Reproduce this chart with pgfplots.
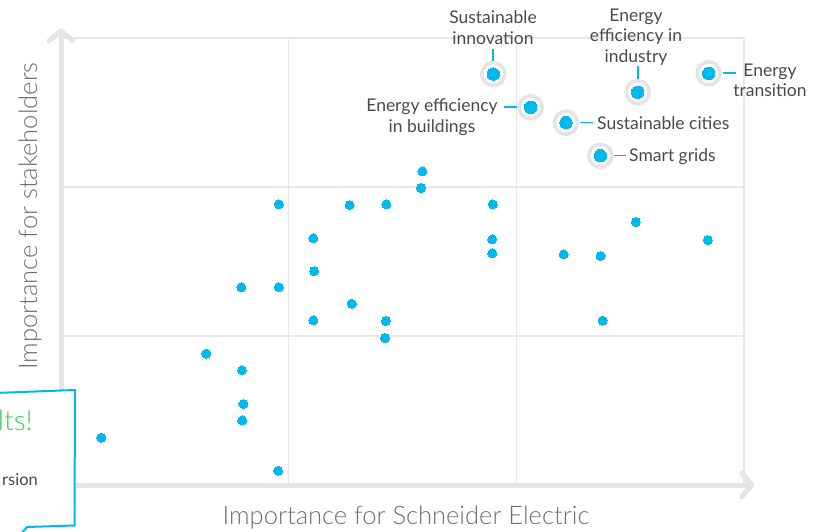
\documentclass[border=0pt]{standalone}
\usepackage{pgfplots}
\pgfplotsset{compat=1.18}
\usetikzlibrary{arrows.meta}
\usepackage{fontspec}
\setmainfont{Lato}
\newfontfamily\lightfont{Lato Light}
\definecolor{dotc}{HTML}{00B9EC}
\definecolor{ringc}{HTML}{E3E4E5}
\definecolor{gridc}{HTML}{E8E8E8}
\definecolor{axc}{HTML}{E4E5E6}
\definecolor{txt}{HTML}{4A4A4A}
\definecolor{lab}{HTML}{6E6E6E}
\definecolor{sgreen}{HTML}{3DCD58}
\pgfplotstableread{
x y
0.177 0.317
0.638 0.881
0.792 1.327
0.795 0.770
0.801 0.544
0.796 0.434
0.957 1.884
0.957 1.327
0.954 0.096
1.108 1.656
1.112 1.436
1.108 1.105
1.268 1.879
1.277 1.217
1.429 1.884
1.427 1.101
1.423 0.987
1.587 2.105
1.581 1.993
1.897 1.884
1.894 1.649
1.894 1.555
2.208 1.548
2.370 1.537
2.525 1.765
2.841 1.644
2.379 1.103
}\others
\pgfplotstableread{
x y
1.899 2.758
2.063 2.535
2.218 2.432
2.369 2.210
2.533 2.636
2.845 2.763
}\keytopics
\begin{document}
\begin{tikzpicture}[x=1pt,y=1pt]
\useasboundingbox (0,0) rectangle (823,531);
\begin{axis}[at={(61pt,46pt)}, anchor=south west, scale only axis,
  width=683pt, height=447pt, xmin=0, xmax=3, ymin=0, ymax=3,
  xtick={1,2,3}, ytick={1,2,3}, xticklabels={}, yticklabels={},
  grid=major, major grid style={gridc, line width=1.3pt},
  axis line style={draw=none}, major tick length=0pt, clip=false]
\draw[axc, line width=5pt, -{Straight Barb[length=10pt,width=24pt,round]}] (axis cs:0,0) -- (axis cs:3.045,0);
\draw[axc, line width=5pt, -{Straight Barb[length=10pt,width=24pt,round]}] (axis cs:0,0) -- (axis cs:0,3.065);
\addplot[only marks, color=dotc, mark=*, mark size=4.5pt, mark options={draw=dotc, fill=dotc, line width=0pt}] table {\others};
\addplot[only marks, color=ringc, mark=*, mark size=11.5pt, mark options={fill=white, draw=ringc, line width=3.6pt}] table {\keytopics};
\addplot[only marks, color=dotc, mark=*, mark size=6.2pt, mark options={draw=dotc, fill=dotc, line width=0pt}] table {\keytopics};
\end{axis}
% leader lines
\begin{scope}[line width=1.6pt]
\draw[draw=dotc] (493,482) -- (493,470);
\draw[draw=dotc] (638,465) -- (638,452);
\draw[draw=dotc] (722.5,458) -- (736,458);
\draw[draw=dotc] (504,424) -- (517,424);
\draw[draw=dotc] (580,408.5) -- (593,408.5);
\draw[draw=dotc] (614,375.5) -- (626,375.5);
\end{scope}
\begin{scope}[every node/.style={txt, font=\fontsize{17.5}{20.5}\selectfont, inner sep=0pt}]
\node[align=center] at (493,503.5) {Sustainable\\innovation};
\node[align=center] at (636,494) {Energy\\efficiency in\\industry};
\node[align=center] at (770,450.5) {Energy\\transition};
\node[align=center] at (432,414) {Energy efficiency\\in buildings};
\node[anchor=west] at (597,408) {Sustainable cities};
\node[anchor=west] at (629,374) {Smart grids};
\end{scope}
\node[lab, font=\lightfont\fontsize{25.5}{28}\selectfont] at (406,14) {Importance for Schneider Electric};
\node[lab, rotate=90, font=\lightfont\fontsize{25.5}{28}\selectfont] at (30,315) {Importance for stakeholders};
% partial callout box
\filldraw[fill=white, draw=dotc, line width=2pt] (-5,138) -- (75,141) -- (74.5,5.5) -- (27,4) -- (18,-6);
\node[anchor=base east, sgreen, font=\lightfont\fontsize{28}{30}\selectfont, inner sep=0pt] at (33,101) {lts!};
\node[anchor=base east, txt, font=\fontsize{16.5}{18}\selectfont, inner sep=0pt] at (38,46) {rsion};
\end{tikzpicture}
\end{document}
